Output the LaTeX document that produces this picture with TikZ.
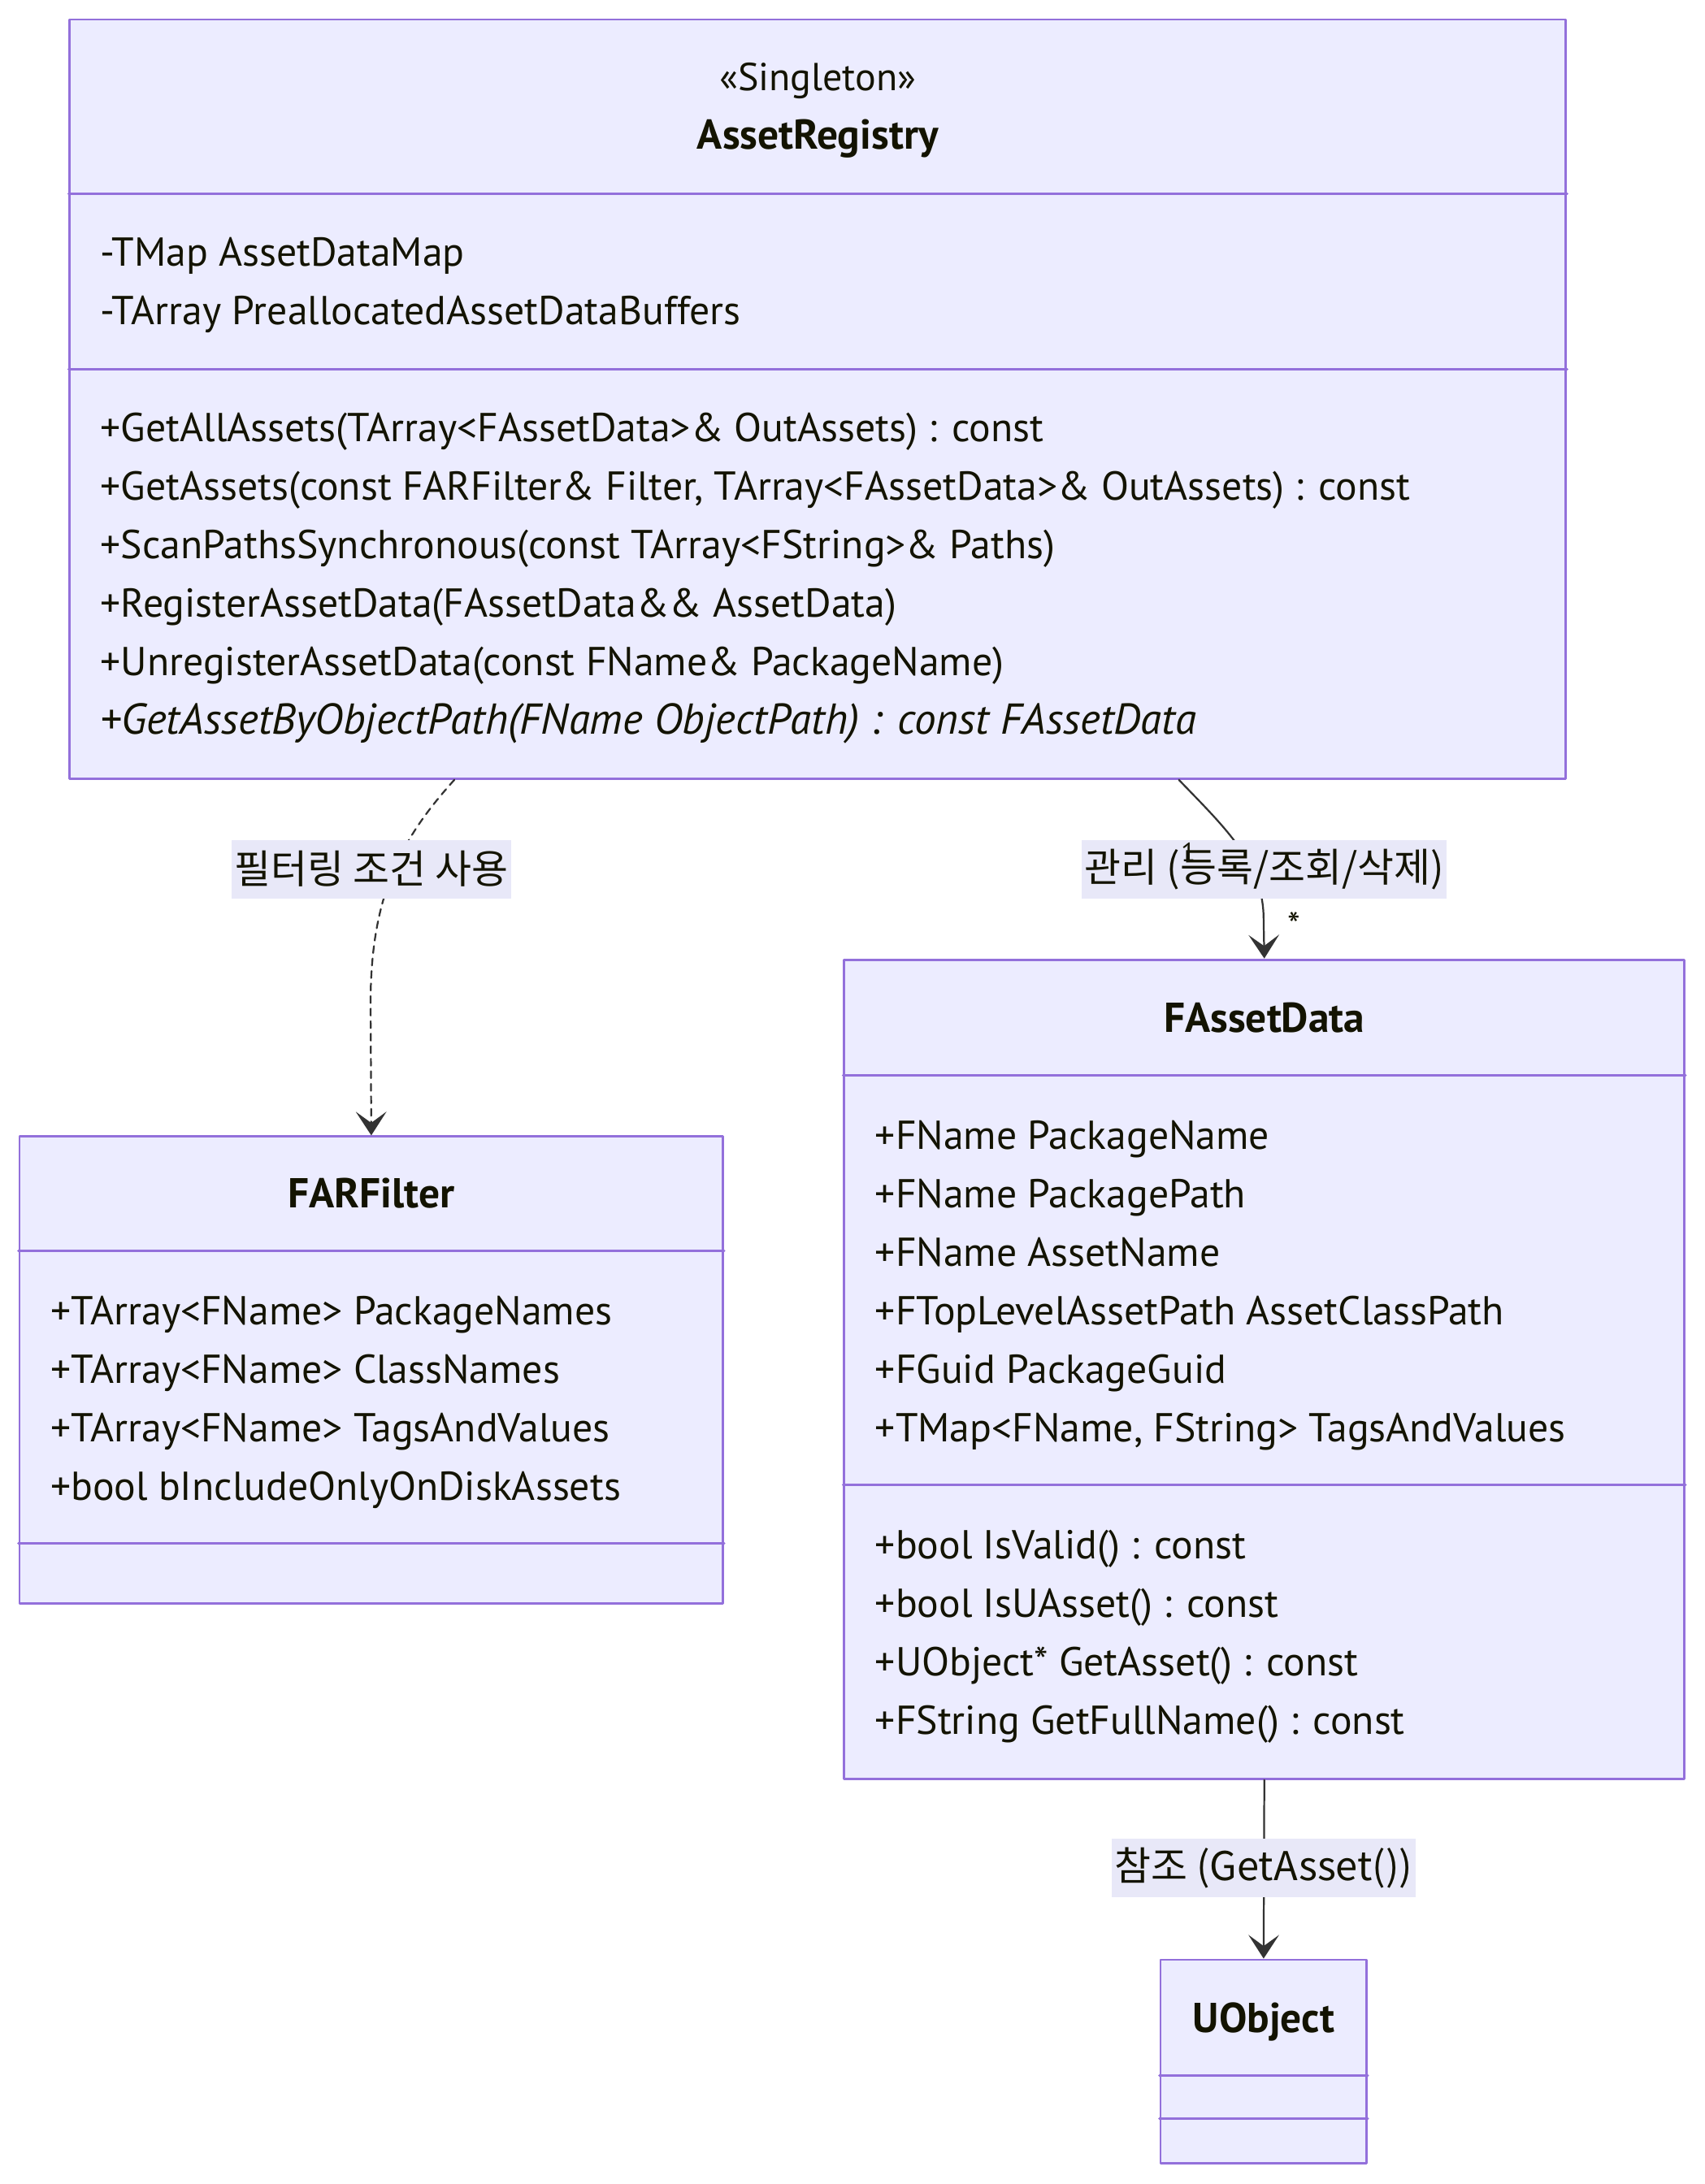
\documentclass[tikz,border=0pt]{standalone}
\usepackage{fontspec}
\setmainfont{PT Sans}
\newfontfamily\kr{Noto Sans CJK KR}
\usetikzlibrary{arrows.meta}
\definecolor{boxfill}{HTML}{ECECFF}
\definecolor{boxline}{HTML}{9370DB}
\definecolor{edgeline}{HTML}{333333}
\definecolor{labelfill}{HTML}{E8E8F8}
\definecolor{txt}{HTML}{131300}

\begin{document}
\begin{tikzpicture}[line cap=round,line join=round,>={Stealth[length=17pt,width=22pt,inset=8pt]},x=1pt,y=-1pt,
    classbox/.style={draw=boxline,fill=boxfill,line width=1.7pt,inner sep=0pt},
    classline/.style={draw=boxline,line width=1.7pt},
    member/.style={anchor=west,inner sep=0pt,text=txt,font=\fontsize{29}{34}\selectfont,text height=26pt,text depth=6pt},
    classname/.style={inner sep=0pt,text=txt,font=\fontsize{30}{34}\selectfont\bfseries,text height=26pt,text depth=6pt},
    connector/.style={draw=edgeline,line width=1.3pt},
    edgelabel/.style={fill=labelfill,inner xsep=2pt,inner ysep=0pt,minimum height=42pt,text=txt,font=\kr\fontsize{28.5}{32}\selectfont},
    multlabel/.style={inner sep=0pt,text=txt,font=\fontsize{19}{22}\selectfont}]
    \useasboundingbox (0,0) rectangle (1223.3,1568);
    \node[classbox,minimum width=1074pt,minimum height=545pt] (reg) at (587,286.5) {};
    \node[classbox,minimum width=505pt,minimum height=335pt] (farfilter) at (266.5,983.5) {};
    \node[classbox,minimum width=603pt,minimum height=588pt] (assetdata) at (907.5,983) {};
    \node[classbox,minimum width=148pt,minimum height=146pt] (uobject) at (907,1480) {};
    \foreach \n/\d in {reg/126,reg/252,farfilter/83,farfilter/293,assetdata/84,assetdata/378,uobject/84,uobject/115}
    \draw[classline] ([yshift=-\d pt]\n.north west) -- ([yshift=-\d pt]\n.north east);

    \node[classname,font=\fontsize{28}{34}\selectfont] (regstereo) at (587,55) {«Singleton»};
    \node[classname] (regname) at (587,97) {AssetRegistry};
    \foreach \m [count=\i] in {-TMap AssetDataMap,-TArray PreallocatedAssetDataBuffers}
    \node[member] (rega\i) at (72,{139+42*\i}) {\m};
    \foreach \m [count=\i] in {{+GetAllAssets(TArray<FAssetData>\& OutAssets) : const},
        {+GetAssets(const FARFilter\& Filter, TArray<FAssetData>\& OutAssets) : const},
        {+ScanPathsSynchronous(const TArray<FString>\& Paths)},
        {+RegisterAssetData(FAssetData\&\& AssetData)},
        {+UnregisterAssetData(const FName\& PackageName)}}
    \node[member] (regm\i) at (72,{265+42*\i}) {\m};
    \node[member,font=\fontsize{31}{34}\selectfont\itshape] (regm6) at (72,517) {+GetAssetByObjectPath(FName ObjectPath) : const FAssetData};

    \node[classname] (farfiltername) at (266.5,857) {FARFilter};
    \foreach \m [count=\i] in {+TArray<FName> PackageNames,+TArray<FName> ClassNames,
        +TArray<FName> TagsAndValues,+bool bIncludeOnlyOnDiskAssets}
    \node[member] (farfiltera\i) at (36,{899+42*\i}) {\m};

    \node[classname] (assetdataname) at (907.5,731) {FAssetData};
    \foreach \m [count=\i] in {+FName PackageName,+FName PackagePath,+FName AssetName,
        +FTopLevelAssetPath AssetClassPath,+FGuid PackageGuid,{+TMap<FName, FString> TagsAndValues}}
    \node[member] (assetdataa\i) at (628,{773+42*\i}) {\m};
    \foreach \m [count=\i] in {+bool IsValid() : const,+bool IsUAsset() : const,
        +UObject* GetAsset() : const,+FString GetFullName() : const}
    \node[member] (assetdatam\i) at (628,{1067+42*\i}) {\m};

    \node[classname] (uobjectname) at (907,1449) {UObject};

    \draw[connector,dash pattern=on 5pt off 4pt,->] ([xshift=277pt]reg.south west) .. controls (290,600) and (266,640) .. (266,720) -- (farfilter.north);
    \draw[connector,->] ([xshift=797pt]reg.south west) .. controls (880,595) and (907,620) .. (907,660) -- (assetdata.north);
    \draw[connector,->] (assetdata.south) -- (uobject.north);
    \node[edgelabel] (filterlabel) at (266.5,624) {필터링 조건 사용};
    \node[edgelabel] (managelabel) at (907.5,624) {관리 (등록/조회/삭제)};
    \node[edgelabel] (reflabel) at (907,1341) {참조 (GetAsset())};
    \node[multlabel] (multone) at (853,612) {1};
    \node[multlabel,font=\fontsize{26}{28}\selectfont] (multmany) at (929,664) {*};
\end{tikzpicture}
\end{document}
